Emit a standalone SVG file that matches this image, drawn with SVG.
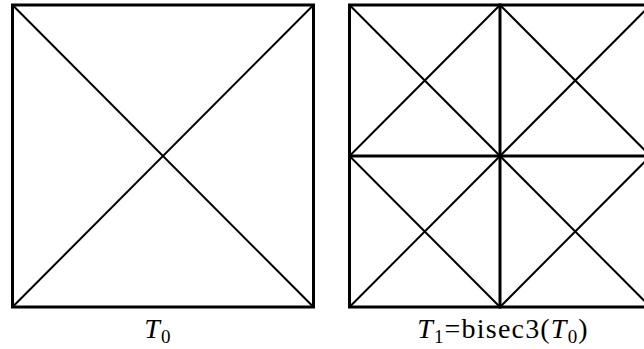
<svg xmlns="http://www.w3.org/2000/svg" width="644" height="349" viewBox="0 0 644 349">
<style>
.thick{stroke:#000;stroke-width:3;fill:none;stroke-linecap:square}
.thin{stroke:#000;stroke-width:2;fill:none}
.lbl{font-family:"Liberation Serif","Times New Roman",serif;font-size:28px;fill:#000;letter-spacing:1.2px}
.cal{font-family:"Liberation Serif",serif;font-style:italic}
.sub{font-size:19px}
</style>
<rect width="644" height="349" fill="#fff"/>
<g id="connectors">
<line class="thin" x1="12.5" y1="5" x2="313.5" y2="307"/>
<line class="thin" x1="313.5" y1="5" x2="12.5" y2="307"/>
<line class="thin" x1="349.5" y1="5" x2="650.5" y2="307"/>
<line class="thin" x1="650.5" y1="5" x2="349.5" y2="307"/>
<polygon class="thin" points="500,5 650.5,156 500,307 349.5,156"/>
<line class="thick" x1="500" y1="5" x2="500" y2="307"/>
<line class="thick" x1="349.5" y1="156" x2="650.5" y2="156"/>
</g>
<g id="T0">
<rect class="thick" x="12.5" y="5" width="301" height="302"/>
<text class="lbl" x="158" y="338" text-anchor="middle"><tspan class="cal">T</tspan><tspan class="sub" dy="5">0</tspan></text>
</g>
<g id="T1">
<rect class="thick" x="349.5" y="5" width="301" height="302"/>
<text class="lbl" x="503" y="338" text-anchor="middle"><tspan class="cal">T</tspan><tspan class="sub" dy="5">1</tspan><tspan dy="-5">=bisec3(</tspan><tspan class="cal">T</tspan><tspan class="sub" dy="5">0</tspan><tspan dy="-5">)</tspan></text>
</g>
</svg>
